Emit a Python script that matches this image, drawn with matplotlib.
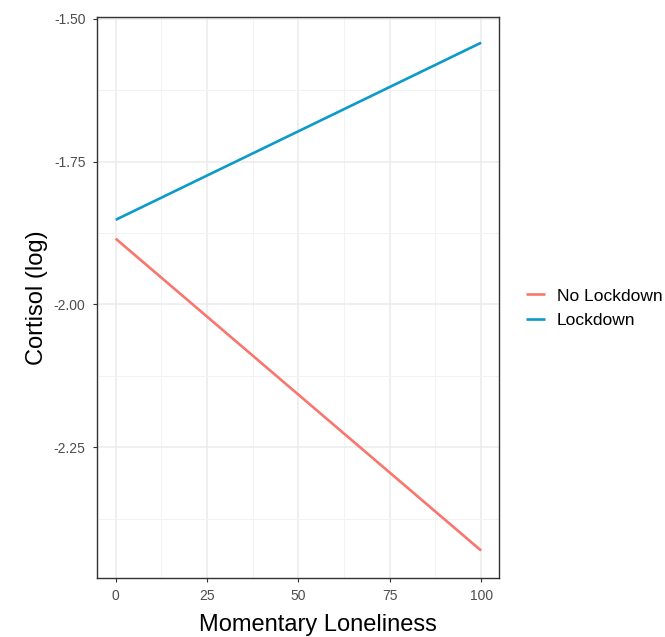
import numpy as np
import matplotlib.pyplot as plt

plt.rcParams['font.family'] = ['Liberation Sans', 'DejaVu Sans']

# data
loneliness = [0, 100]
no_lockdown = [-1.885, -2.431]
lockdown = [-1.852, -1.542]

x_ticks = [0, 25, 50, 75, 100]
y_ticks = [-2.25, -2.00, -1.75, -1.50]

fig = plt.figure(figsize=(6.65, 6.37), dpi=100)
ax = fig.add_axes([0.1454, 0.0926, 0.605, 0.8807])

ax.plot(loneliness, no_lockdown, color='#F8766D', lw=1.9, label='No Lockdown',
        solid_capstyle='butt')
ax.plot(loneliness, lockdown, color='#0C9BC9', lw=1.9, label='Lockdown',
        solid_capstyle='butt')

ax.set_xlim(-5.2, 104.9)
ax.set_ylim(-2.479, -1.497)

ax.set_xticks(x_ticks)
ax.set_xticklabels([str(t) for t in x_ticks])
ax.set_yticks(y_ticks)
ax.set_yticklabels(['%.2f' % t for t in y_ticks])
ax.set_xticks([12.5, 37.5, 62.5, 87.5], minor=True)
ax.set_yticks([-2.375, -2.125, -1.875, -1.625], minor=True)

ax.grid(True, which='major', color='#EBEBEB', lw=1.1)
ax.grid(True, which='minor', color='#F2F2F2', lw=0.7)
ax.set_axisbelow(True)

ax.tick_params(which='major', length=3, width=0.8, color='#333333',
               labelsize=10, labelcolor='#4D4D4D', pad=5)
ax.tick_params(which='minor', length=0)
for s in ax.spines.values():
    s.set_color('#333333')
    s.set_linewidth(1.0)

ax.set_xlabel('Momentary Loneliness', fontsize=17, labelpad=8, x=0.55)
ax.set_ylabel('Cortisol (log)', fontsize=17, labelpad=4)

leg = ax.legend(loc='center left', bbox_to_anchor=(0.768, 0.516),
                bbox_transform=fig.transFigure, frameon=False,
                fontsize=12.5, handlelength=1.1, handletextpad=0.65,
                labelspacing=0.55)

fig.savefig('out.png', dpi=100)
